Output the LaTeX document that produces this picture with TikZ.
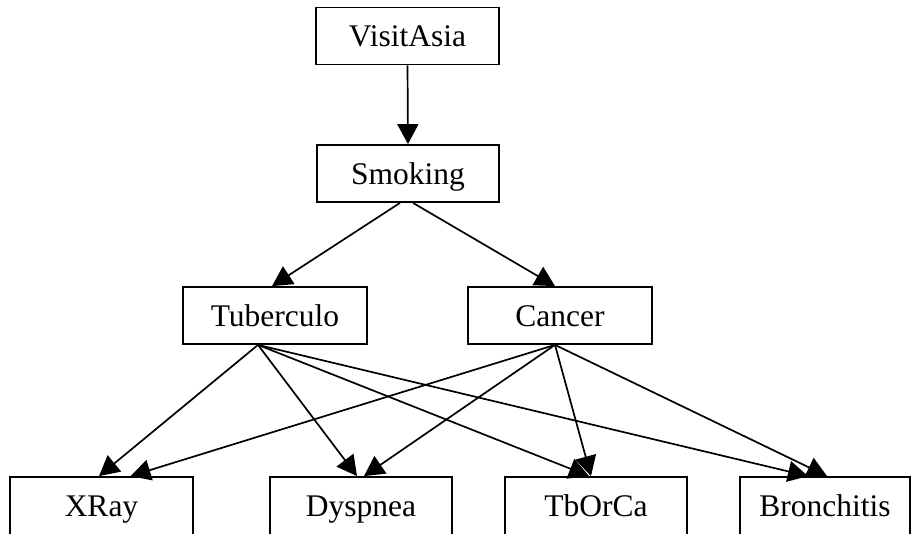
\documentclass[tikz,border=0pt]{standalone}
\usepackage{fontspec}
\setmainfont{Liberation Serif}
\usetikzlibrary{arrows.meta}
\begin{document}
\begin{tikzpicture}[x=1pt,y=-1pt,
  var/.style={draw, line width=1.8pt, minimum height=57pt, inner sep=0pt,
    text height=21pt, text depth=0pt, font=\fontsize{31.5}{36}\selectfont},
  low/.style={var, minimum height=62pt, text height=16pt},
  dep/.style={line width=1.7pt, -{Triangle[length=20pt,width=21pt]}}]
\useasboundingbox (0,0) rectangle (915,533);

% variables of the network
\node[var, minimum width=183pt] (va)  at (407.5,36)    {VisitAsia};
\node[var, minimum width=182pt] (sm)  at (408,173.5)   {Smoking};
\node[var, minimum width=184pt] (tub) at (275,315.5)   {Tuberculo};
\node[var, minimum width=184pt] (can) at (560,315.5)   {Cancer};
\node[low, minimum width=183pt] (xr)  at (101.5,508)   {XRay};
\node[low, minimum width=182pt] (dy)  at (361,508)     {Dyspnea};
\node[low, minimum width=182pt] (tc)  at (596,508)     {TbOrCa};
\node[low, minimum width=170pt] (br)  at (825,508)     {Bronchitis};

% dependencies
\draw[dep] (va.south) -- (sm.north);
\draw[dep] ([xshift=-8pt]sm.south) -- ([xshift=-3pt]tub.north);
\draw[dep] ([xshift=5pt]sm.south) -- ([xshift=-5pt]can.north);

\draw[dep] ([xshift=-17pt]tub.south) -- ([xshift=-2.5pt]xr.north);
\draw[dep] ([xshift=-17pt]tub.south) -- ([xshift=-4pt]dy.north);
\draw[dep] ([xshift=-17pt]tub.south) -- ([xshift=-7pt]tc.north);
\draw[dep] ([xshift=-17pt]tub.south) -- ([xshift=-17pt]br.north);

\draw[dep] ([xshift=-5pt]can.south) -- ([xshift=29pt]xr.north);
\draw[dep] ([xshift=-5pt]can.south) -- ([xshift=3pt]dy.north);
\draw[dep] ([xshift=-5pt]can.south) -- ([xshift=-5pt]tc.north);
\draw[dep] ([xshift=-5pt]can.south) -- ([xshift=2pt]br.north);
\end{tikzpicture}
\end{document}
